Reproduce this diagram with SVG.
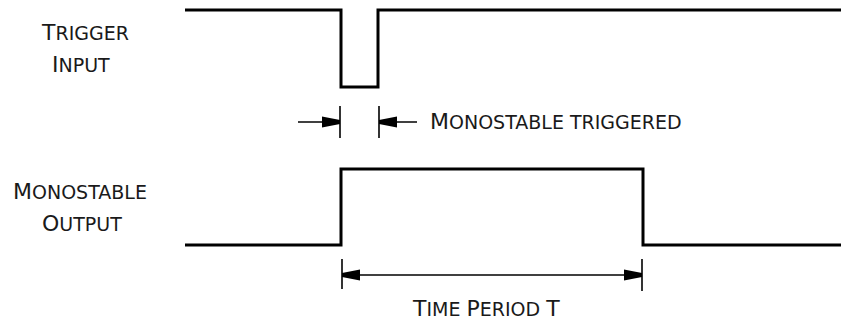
<svg xmlns="http://www.w3.org/2000/svg" width="841" height="326" viewBox="0 0 841 326">
  <style>
    .lbl { font-family: "DejaVu Sans", Verdana, sans-serif; fill: #1a1a1a; }
    .big { font-size: 22px; }
    .sm { font-size: 19px; }
    .wave { fill: none; stroke: #000; stroke-width: 3; stroke-linejoin: miter; }
    .dim { fill: none; stroke: #000; stroke-width: 1.4; }
    .tick { fill: none; stroke: #000; stroke-width: 1.6; }
    .head { fill: #000; stroke: none; }
  </style>
  <defs>
    <marker id="arr" viewBox="0 0 18 12" refX="18" refY="6" markerWidth="18" markerHeight="12" markerUnits="userSpaceOnUse" orient="auto">
      <path class="head" d="M0,0.5 L18,4 L18,8 L0,11.5 Z"/>
    </marker>
  </defs>
  <rect width="841" height="326" fill="#fff"/>

  <g id="trigger-label">
    <text class="lbl" x="42" y="40"><tspan class="big">T</tspan><tspan class="sm">RIGGER</tspan></text>
    <text class="lbl" x="52" y="72"><tspan class="big">I</tspan><tspan class="sm">NPUT</tspan></text>
  </g>
  <g id="output-label">
    <text class="lbl" x="13" y="199"><tspan class="big">M</tspan><tspan class="sm">ONOSTABLE</tspan></text>
    <text class="lbl" x="42" y="231"><tspan class="big">O</tspan><tspan class="sm">UTPUT</tspan></text>
  </g>

  <g id="trigger-wave">
    <polyline class="wave" points="185,10 341,10 341,87 378,87 378,10 841,10"/>
  </g>
  <g id="output-wave">
    <polyline class="wave" points="185,245 341,245 341,169 643,169 643,245 841,245"/>
  </g>

  <g id="connectors">
    <line class="tick" x1="340" y1="106" x2="340" y2="138"/>
    <line class="tick" x1="379" y1="106" x2="379" y2="138"/>
    <line class="dim" x1="298" y1="122" x2="340" y2="122" marker-end="url(#arr)"/>
    <line class="dim" x1="417" y1="122" x2="379" y2="122" marker-end="url(#arr)"/>
    <line class="tick" x1="342" y1="259" x2="342" y2="289"/>
    <line class="tick" x1="642" y1="259" x2="642" y2="291"/>
    <line class="dim" x1="492" y1="275" x2="342" y2="275" marker-end="url(#arr)"/>
    <line class="dim" x1="492" y1="275" x2="642" y2="275" marker-end="url(#arr)"/>
  </g>

  <g id="triggered-label">
    <text class="lbl" x="430" y="129"><tspan class="big">M</tspan><tspan class="sm">ONOSTABLE TRIGGERED</tspan></text>
  </g>
  <g id="period-label">
    <text class="lbl" x="413" y="316"><tspan class="big">T</tspan><tspan class="sm">IME </tspan><tspan class="big">P</tspan><tspan class="sm">ERIOD </tspan><tspan class="big">T</tspan></text>
  </g>
</svg>
